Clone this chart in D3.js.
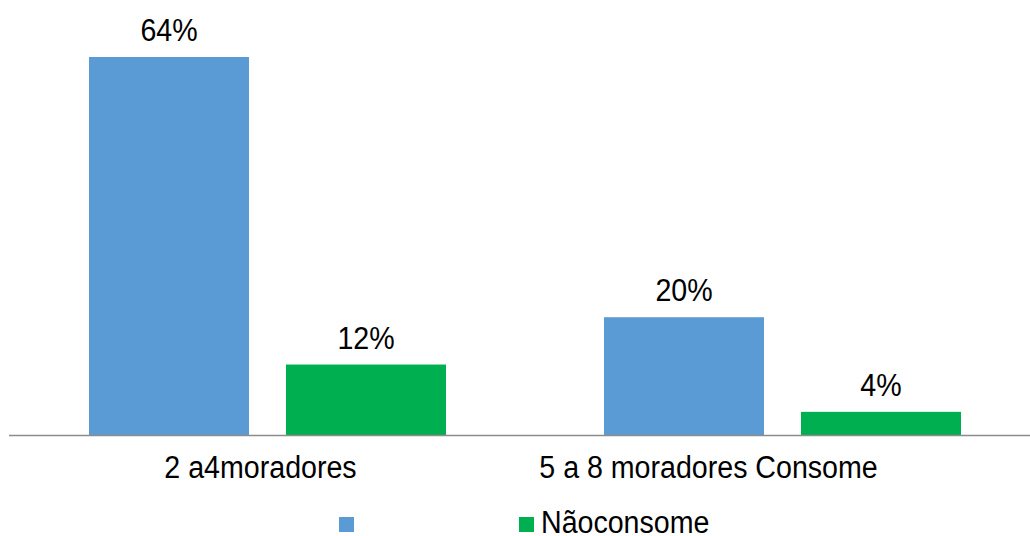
<!DOCTYPE html>
<html>
<head>
<meta charset="utf-8">
<script src="https://cdn.jsdelivr.net/npm/d3@7"></script>
<style>
  html, body { margin: 0; padding: 0; background: #fff; }
  svg { display: block; font-family: "Liberation Sans", Arial, sans-serif; }
</style>
</head>
<body>
<svg id="chart" width="1030" height="536"></svg>
<script>
// Household size groups and share of respondents in each consumption group
const categories = ["2 a4moradores", "5 a 8 moradores"];
const categoryLabels = ["2 a4moradores", "5 a 8 moradores Consome"];
const series = ["Consome", "Não consome"];
const consomeValues = [64, 20];
const naoConsomeValues = [12, 4];
const legendLabels = ["", "Nãoconsome"];
const colors = ["#5B9BD5", "#00B050"];

const svg = d3.select("#chart");
const baseline = 435.5;
const fontSize = 28.6;
const stretch = "scale(1,1.1)";

const x0 = d3.scaleBand().domain(categories).range([10, 1040]);
const x1 = d3.scaleBand().domain(series)
  .range([79, x0.bandwidth() - 79])
  .paddingInner(37 / 197);
const y = d3.scaleLinear().domain([0, 64]).range([baseline, 57]);
const color = d3.scaleOrdinal().domain(series).range(colors);

const rows = categories.map((c, i) => ({
  category: c,
  values: [
    { key: series[0], value: consomeValues[i] },
    { key: series[1], value: naoConsomeValues[i] }
  ]
}));

const groups = svg.selectAll("g.group").data(rows).join("g")
  .attr("class", "group")
  .attr("transform", d => `translate(${x0(d.category)},0)`);

groups.selectAll("rect").data(d => d.values).join("rect")
  .attr("x", d => x1(d.key))
  .attr("y", d => y(d.value))
  .attr("width", x1.bandwidth())
  .attr("height", d => baseline - y(d.value))
  .attr("fill", d => color(d.key));

groups.selectAll("text.val").data(d => d.values).join("text")
  .attr("class", "val")
  .attr("transform", d =>
    `translate(${x1(d.key) + x1.bandwidth() / 2},${y(d.value) - 16}) ${stretch}`)
  .attr("text-anchor", "middle")
  .attr("font-size", fontSize)
  .attr("fill", "#000")
  .text(d => d.value + "%");

// Category axis line
svg.append("line")
  .attr("x1", 9).attr("x2", 1030)
  .attr("y1", baseline).attr("y2", baseline)
  .attr("stroke", "#8c8c8c").attr("stroke-width", 1.5);

// Category labels
const labelShift = [-7, -74];
svg.selectAll("text.cat").data(categories).join("text")
  .attr("class", "cat")
  .attr("transform", (d, i) =>
    `translate(${x0(d) + x0.bandwidth() / 2 + labelShift[i]},478) ${stretch}`)
  .attr("text-anchor", "middle")
  .attr("font-size", fontSize)
  .attr("fill", "#000")
  .text((d, i) => categoryLabels[i]);

// Legend
const legendX = [339, 519];
const legend = svg.selectAll("g.legend").data(series).join("g")
  .attr("class", "legend")
  .attr("transform", (d, i) => `translate(${legendX[i]},517)`);
legend.append("rect")
  .attr("width", 15).attr("height", 15)
  .attr("fill", d => color(d));
legend.append("text")
  .attr("transform", `translate(22,16) ${stretch}`)
  .attr("font-size", fontSize)
  .attr("fill", "#000")
  .text((d, i) => legendLabels[i]);
</script>
</body>
</html>
